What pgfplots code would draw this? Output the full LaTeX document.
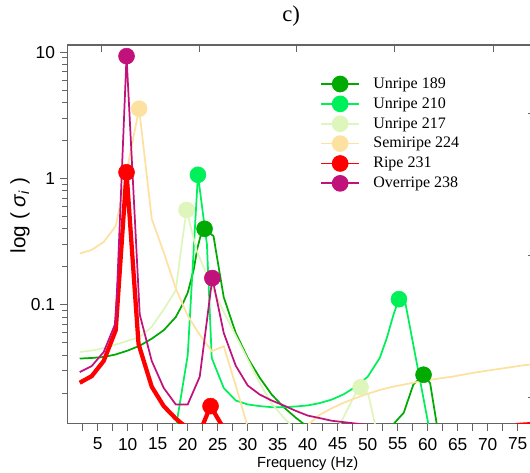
\documentclass[border=0pt]{standalone}
\usepackage{pgfplots}
\pgfplotsset{compat=1.18}
\usepackage{fontspec}
\setmainfont{Liberation Sans}
\newfontfamily\seriffont{Liberation Serif}
\definecolor{cUA}{RGB}{0,170,0}
\definecolor{cUB}{RGB}{0,240,90}
\definecolor{cUC}{RGB}{222,246,188}
\definecolor{cSR}{RGB}{253,225,160}
\definecolor{cR}{RGB}{255,0,0}
\definecolor{cO}{RGB}{192,18,122}
\definecolor{axisgray}{RGB}{100,100,100}
\begin{document}
\begin{tikzpicture}
\begin{axis}[
 scale only axis, width=360pt, height=283.7pt,
 xmin=0, xmax=80, ymode=log, ymin=0.01156, ymax=11.4,
 axis line style={axisgray, line width=0.9pt},
 tick style={axisgray, line width=0.8pt},
 tick align=outside, xtick pos=bottom, ytick pos=left,
 major tick length=6pt, minor tick length=4pt,
 xtick={2.5,5,...,77.5},
 xticklabels={,5,,10,,15,,20,,25,,30,,35,,40,,45,,50,,55,,60,,65,,70,,75,},
 ytick={0.1,1,10}, yticklabels={0.1,1,10},
 minor ytick={0.02,0.03,0.04,0.05,0.06,0.07,0.08,0.09,0.2,0.3,0.4,0.5,0.6,0.7,0.8,0.9,2,3,4,5,6,7,8,9},
 tick label style={font=\fontsize{13}{15}\selectfont},
 xticklabel style={yshift=-1.5pt},
 xlabel={Frequency (Hz)},
 xlabel style={at={(axis description cs:0.5,-0.1057)}, anchor=center, font=\fontsize{11}{13}\selectfont},
 ylabel={log ( \textit{σ}\textsubscript{\textit{i}} )},
 ylabel style={at={(axis description cs:-0.0994,0.55)}, anchor=center, font=\fontsize{15.5}{18}\selectfont},
 title={c)},
 title style={at={(axis description cs:0.4653,1.0555)}, anchor=center, font=\seriffont\fontsize{17}{20}\selectfont},
 legend style={draw=none, fill=none, at={(axis description cs:0.5256,0.9196)}, anchor=north west,
   font=\seriffont\fontsize{12}{14}\selectfont, row sep=2.4pt, column sep=10pt,
   nodes={inner sep=0pt, text height=9.5pt, text depth=3pt}, inner sep=0pt},
 legend cell align=left,
 legend image code/.code={\draw[#1, mark repeat=2, mark phase=2] plot coordinates {(0pt,0pt) (14.25pt,0pt) (28.5pt,0pt)};},
]
\coordinate (SW) at (rel axis cs:0,0);
\addlegendimage{cUA, line width=1.3pt, mark=*, mark size=5.6pt}
\addlegendentry{Unripe 189}
\addlegendimage{cUB, line width=1.3pt, mark=*, mark size=5.6pt}
\addlegendentry{Unripe 210}
\addlegendimage{cUC, line width=1.3pt, mark=*, mark size=5.6pt}
\addlegendentry{Unripe 217}
\addlegendimage{cSR, line width=1.3pt, mark=*, mark size=5.6pt}
\addlegendentry{Semiripe 224}
\addlegendimage{cR, line width=1.3pt, mark=*, mark size=5.6pt}
\addlegendentry{Ripe 231}
\addlegendimage{cO, line width=1.3pt, mark=*, mark size=5.6pt}
\addlegendentry{Overripe 238}
% Unripe 189
\addplot[cUA, line width=1.3pt, forget plot] coordinates {
(2,0.0376) (4,0.038) (6,0.0387) (8,0.0405) (10,0.0435) (12,0.0475) (14,0.054) (16,0.063)
(18,0.08) (19,0.098) (20,0.125) (21,0.19) (21.6,0.28) (22.2,0.36) (22.8,0.40) (24.3,0.35) (25,0.22) (26,0.115)
(28,0.06) (30,0.038) (32,0.0265) (34,0.0195) (36,0.0155) (38,0.0128) (40,0.0108) (42,0.0095)
(52,0.0095) (54.3,0.0114) (56,0.014) (57.6,0.0234) (59.3,0.028) (60.4,0.024) (61.5,0.0114)
(62.5,0.009) (80,0.009)};
% Unripe 210
\addplot[cUB, line width=1.3pt, forget plot] coordinates {
(16,0.006) (18,0.0105) (20,0.04) (21.7,1.07) (23.2,0.3) (24,0.038) (26,0.022) (28,0.0175)
(30,0.0163) (32,0.0158) (34,0.0155) (36,0.0155) (38,0.0157) (40,0.016) (42,0.0167) (44,0.0178)
(46,0.0196) (48,0.0225) (50,0.027) (52,0.038) (53.2,0.055) (54.3,0.084) (55.2,0.111)
(56.2,0.108) (60.1,0.0114) (61,0.0095) (80,0.009)};
% Unripe 217
\addplot[cUC, line width=1.3pt, forget plot] coordinates {
(2,0.0424) (4,0.0435) (6,0.0455) (8,0.0485) (10,0.052) (12,0.0555) (14,0.067) (16,0.092)
(18,0.13) (19,0.3) (19.8,0.564) (21.5,0.268) (24,0.14) (26,0.088) (28,0.057) (30,0.037)
(32,0.024) (34,0.0165) (36,0.0128) (37,0.0114) (38,0.0100) (44,0.009) (45.4,0.0114)
(46.5,0.0145) (48,0.02) (48.8,0.0223) (50.1,0.0195) (51.2,0.0114) (52,0.009) (80,0.008)};
% Semiripe 224
\addplot[cSR, line width=1.3pt, forget plot] coordinates {
(2,0.255) (4,0.272) (6,0.315) (8,0.42) (10,1.26) (11.9,3.57) (14,0.48) (16,0.26) (18,0.135)
(20,0.082) (22,0.058) (24,0.043) (26,0.047) (28,0.023) (30,0.0108) (32,0.008) (38,0.008)
(40,0.0112) (42,0.0135) (44,0.0152) (46,0.0168) (48,0.0183) (50,0.0198) (52,0.0212)
(54,0.0224) (56,0.0234) (58,0.0244) (60,0.0253) (62,0.0262) (64,0.027) (66,0.0281)
(68,0.0292) (70,0.0302) (72,0.0312) (74,0.0322) (76,0.0333) (78,0.034) (80,0.035)};
% Ripe 231
\addplot[cR, line width=3.2pt, forget plot] coordinates {
(2,0.0242) (4,0.0273) (6,0.036) (8,0.063) (9.8,1.12) (11.8,0.049) (14,0.0225) (16,0.0158)
(18,0.0126) (20,0.0105) (22,0.0098) (23.8,0.0158) (26,0.0105) (28,0.009) (74,0.009)
(75,0.0112) (80,0.0116)};
% Overripe 238
\addplot[cO, line width=1.3pt, forget plot] coordinates {
(2,0.0294) (4,0.0328) (6,0.0424) (8,0.0724) (9.8,9.3) (12,0.084) (14,0.036) (16,0.022)
(18,0.0163) (20,0.0163) (22,0.027) (24.1,0.163) (26,0.06) (28,0.033) (30,0.023) (32,0.0195)
(34,0.0175) (36,0.016) (38,0.0145) (40,0.0133) (42,0.0127) (44,0.0121) (46,0.0118)
(48,0.0115) (50,0.0112) (52,0.0109) (80,0.009)};
% markers
\addplot[only marks, mark=*, mark size=6pt, cUA, forget plot] coordinates {(22.8,0.40) (59.3,0.028)};
\addplot[only marks, mark=*, mark size=6pt, cUB, forget plot] coordinates {(21.7,1.07) (55.2,0.111)};
\addplot[only marks, mark=*, mark size=6pt, cUC, forget plot] coordinates {(19.8,0.564) (48.8,0.0223)};
\addplot[only marks, mark=*, mark size=6pt, cSR, forget plot] coordinates {(11.9,3.57)};
\addplot[only marks, mark=*, mark size=6pt, cR, forget plot] coordinates {(9.8,1.12) (23.8,0.0158)};
\addplot[only marks, mark=*, mark size=6pt, cO, forget plot] coordinates {(9.8,9.3) (24.1,0.163)};
\end{axis}
\begin{axis}[
 scale only axis, width=360pt, height=283.7pt,
 xmin=0, xmax=80, ymode=log, ymin=0.01156, ymax=11.4,
 axis x line*=top, axis y line=none, axis line style={draw=none},
 xtick={5.7,21.9,38.2,54.4,70.9}, xticklabels={}, ytick=\empty,
 xminorticks=false, yminorticks=false,
 tick align=inside, major tick length=5pt, tick style={axisgray, line width=0.8pt},
]
\end{axis}
\begin{axis}[
 scale only axis, width=360pt, height=283.7pt,
 xmin=0, xmax=80, ymode=log, ymin=0.01156, ymax=11.4,
 axis y line*=right, axis x line=none, axis line style={draw=none},
 ytick={3.28,0.245,0.0186}, yticklabels={}, xtick=\empty,
 xminorticks=false, yminorticks=false,
 tick align=inside, major tick length=14.5pt, tick style={axisgray, line width=0.8pt},
]
\end{axis}
\pgfresetboundingbox
\path[use as bounding box] ([shift={(-50.8pt,-37.3pt)}]SW) rectangle ([shift={(346.7pt,317.45pt)}]SW);
\end{tikzpicture}
\end{document}
